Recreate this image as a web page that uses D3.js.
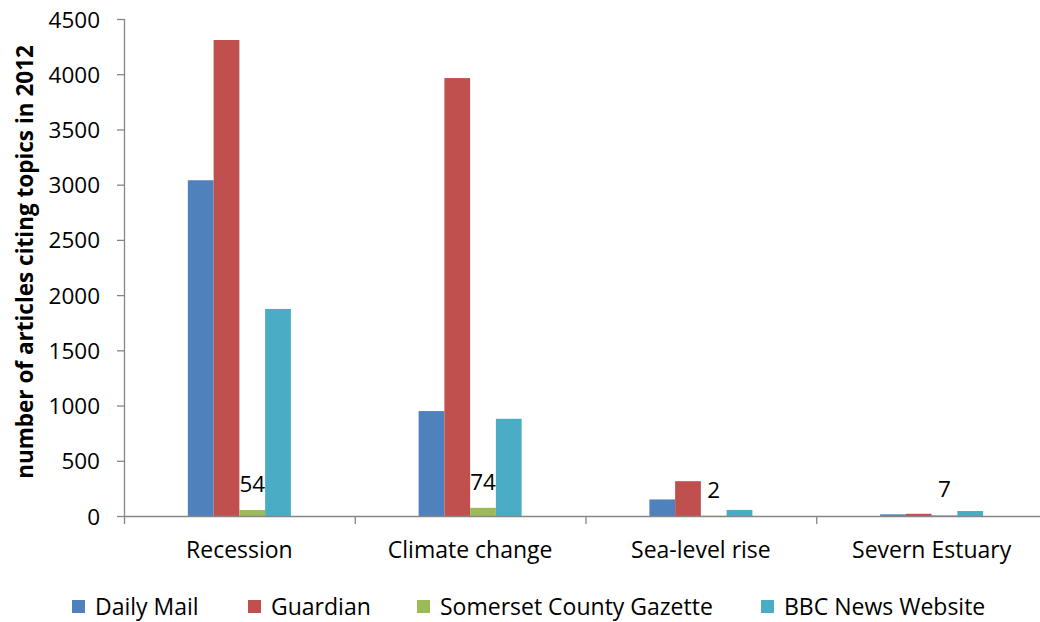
<!DOCTYPE html>
<html>
<head>
<meta charset="utf-8">
<script src="https://cdn.jsdelivr.net/npm/d3@7"></script>
<style>
  html, body { margin: 0; padding: 0; background: #fff; }
  svg { display: block; }
  text { font-family: "Open Sans", Lato, sans-serif; fill: #000; }
</style>
</head>
<body>
<svg id="chart" width="1040" height="622"></svg>
<script>
// Topics and outlets
const categories = ["Recession", "Climate change", "Sea-level rise", "Severn Estuary"];
const seriesNames = ["Daily Mail", "Guardian", "Somerset County Gazette", "BBC News Website"];
const seriesColors = ["#4F81BD", "#C0504D", "#9BBB59", "#4BACC6"];

// Article counts per outlet, one value per topic
const dailyMail = [3040, 950, 150, 15];
const guardian = [4310, 3965, 315, 20];
const somersetGazette = [54, 74, 2, 7];
const bbcNews = [1875, 880, 55, 45];

const yTicks = [0, 500, 1000, 1500, 2000, 2500, 3000, 3500, 4000, 4500];

const seriesValues = [dailyMail, guardian, somersetGazette, bbcNews];
const labelledSeries = 2; // only the Gazette bars carry value labels

const svg = d3.select("#chart");
const plot = { left: 124, right: 1047, top: 19, bottom: 516 };
const axisColor = "#868686";
const fontSize = "22.5px";
const labelSize = "23px";

const x0 = d3.scaleBand().domain(categories).range([plot.left, plot.right]).padding(0);
const x1 = d3.scaleBand().domain(seriesNames).range([0, x0.bandwidth()])
  .paddingInner(0).paddingOuter(2.48);
const y = d3.scaleLinear().domain([0, 4500]).range([plot.bottom, plot.top]);

// Bars
const groups = svg.append("g").selectAll("g")
  .data(categories)
  .join("g")
  .attr("transform", d => `translate(${x0(d)},0)`);

groups.selectAll("rect")
  .data((c, ci) => seriesNames.map((s, si) => ({ s, si, v: seriesValues[si][ci] })))
  .join("rect")
  .attr("x", d => x1(d.s))
  .attr("width", x1.bandwidth())
  .attr("y", d => y(d.v))
  .attr("height", d => y(0) - y(d.v))
  .attr("fill", d => seriesColors[d.si]);

// Value labels above the Gazette bars
groups.selectAll("text.val")
  .data((c, ci) => [{ s: seriesNames[labelledSeries], v: seriesValues[labelledSeries][ci] }])
  .join("text")
  .attr("class", "val")
  .attr("x", d => x1(d.s) + x1.bandwidth() / 2)
  .attr("y", d => y(d.v) - 18)
  .attr("text-anchor", "middle")
  .style("font-size", fontSize)
  .text(d => d.v);

// Y axis
const yAxis = svg.append("g")
  .attr("transform", `translate(${plot.left},0)`)
  .call(d3.axisLeft(y).tickValues(yTicks).tickSize(7).tickPadding(17).tickFormat(d3.format("d")));
yAxis.select(".domain").attr("stroke", axisColor).attr("stroke-width", 1.3)
  .attr("d", `M0.5,${plot.top}V${plot.bottom}`);
yAxis.selectAll(".tick line").attr("stroke", axisColor).attr("stroke-width", 1.3);
yAxis.selectAll(".tick text").style("font-size", fontSize).attr("dy", "0.36em")
  .attr("font-family", null);

// X axis: category boundary ticks
const boundaries = categories.map(c => x0(c)).concat([plot.right]);
const xAxis = svg.append("g");
xAxis.append("line")
  .attr("x1", plot.left).attr("x2", plot.right)
  .attr("y1", plot.bottom + 0.5).attr("y2", plot.bottom + 0.5)
  .attr("stroke", axisColor).attr("stroke-width", 1.3);
xAxis.selectAll("line.tk")
  .data(boundaries)
  .join("line")
  .attr("class", "tk")
  .attr("x1", d => d + 0.5).attr("x2", d => d + 0.5)
  .attr("y1", plot.bottom).attr("y2", plot.bottom + 8)
  .attr("stroke", axisColor).attr("stroke-width", 1.3);
xAxis.selectAll("text")
  .data(categories)
  .join("text")
  .attr("x", d => x0(d) + x0.bandwidth() / 2)
  .attr("y", 558)
  .attr("text-anchor", "middle")
  .style("font-size", labelSize)
  .text(d => d);

// Y axis title
svg.append("text")
  .attr("transform", "translate(33,262) rotate(-90)")
  .attr("text-anchor", "middle")
  .style("font-size", "22.5px")
  .style("font-weight", "bold")
  .text("number of articles citing topics in 2012");

// Legend
const legendX = [72, 248, 417, 761];
const legend = svg.append("g").selectAll("g")
  .data(seriesNames)
  .join("g")
  .attr("transform", (d, i) => `translate(${legendX[i]},600)`);
legend.append("rect")
  .attr("width", 13).attr("height", 13)
  .attr("fill", (d, i) => seriesColors[i]);
legend.append("text")
  .attr("x", 23).attr("y", 15)
  .style("font-size", labelSize)
  .text(d => d);
</script>
</body>
</html>
